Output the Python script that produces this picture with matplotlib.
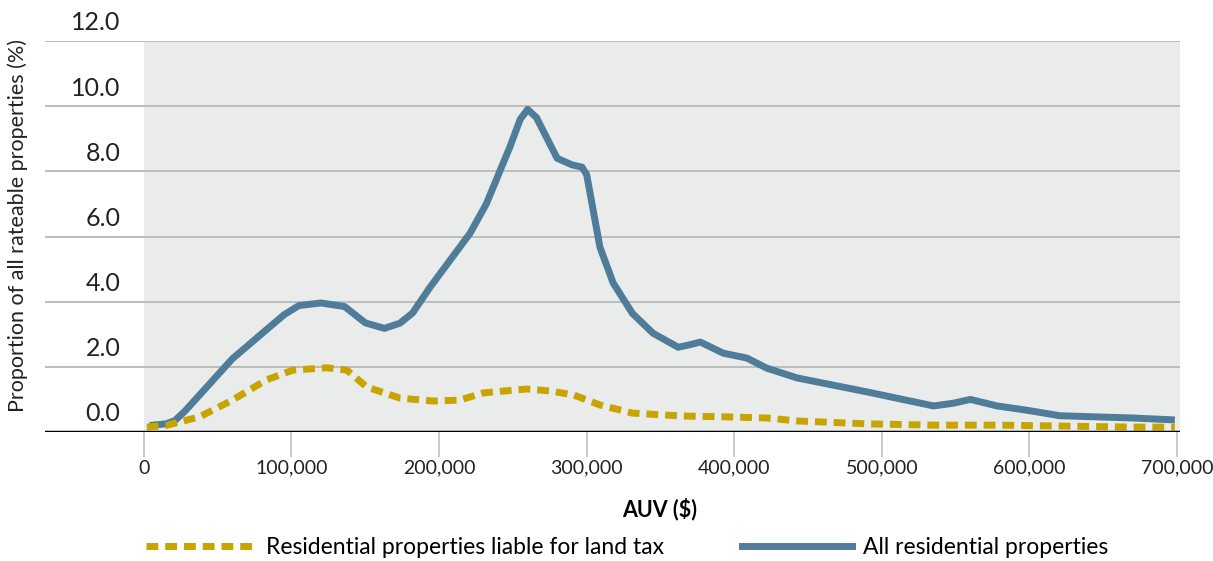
import numpy as np
import matplotlib
matplotlib.use('Agg')
from matplotlib import pyplot as plt

# data (AUV in $, proportion in %)
all_x = [4000, 15000, 21000, 28000, 60000, 95000, 105000, 120000, 136000, 150000, 163000,
         173500, 182000, 194000, 221000, 232000, 248000, 255000, 260000, 266000, 280000, 290000,
         296800, 300000, 309000, 318000, 331000, 345000, 362000, 370000, 377000, 392500, 408500,
         422000, 442500, 490000, 535000, 548000, 560000, 578000, 598000, 620500, 648000,
         670000, 698500]
all_y = [0.2, 0.25, 0.35, 0.65, 2.25, 3.6, 3.88, 3.96, 3.85, 3.35, 3.18,
         3.34, 3.65, 4.45, 6.1, 7.0, 8.75, 9.6, 9.9, 9.65, 8.4, 8.2,
         8.13, 7.9, 5.67, 4.57, 3.64, 3.03, 2.6, 2.68, 2.76, 2.42, 2.27,
         1.96, 1.66, 1.23, 0.8, 0.88, 1.0, 0.8, 0.67, 0.5, 0.46,
         0.43, 0.37]

tax_x = [2000, 15000, 38000, 60000, 83000, 101000, 124000, 137500, 151000, 173500,
         196000, 214000, 230000, 259500, 275000, 291000, 309000, 331000, 365000,
         399000, 422000, 442500, 490000, 535000, 580000, 625000, 670000, 698500]
tax_y = [0.15, 0.2, 0.47, 0.98, 1.6, 1.9, 1.97, 1.9, 1.38, 1.04,
         0.95, 0.98, 1.2, 1.32, 1.26, 1.14, 0.83, 0.58, 0.49,
         0.46, 0.43, 0.34, 0.25, 0.21, 0.21, 0.18, 0.15, 0.15]

y_ticks = [0, 2, 4, 6, 8, 10, 12]
y_labels = ['0.0', '2.0', '4.0', '6.0', '8.0', '10.0', '12.0']
x_ticks = [0, 100000, 200000, 300000, 400000, 500000, 600000, 700000]
x_labels = ['0', '100,000', '200,000', '300,000', '400,000', '500,000', '600,000', '700,000']

blue = '#4e7c99'
gold = '#c8a400'

plt.rcParams['font.family'] = ['Lato', 'DejaVu Sans']

fig = plt.figure(figsize=(12.13, 5.61), dpi=100)
ax = fig.add_axes([45 / 1213, (561 - 432) / 561, (1180 - 45) / 1213, (432 - 41) / 561])
ax.set_xlim(-67000, 702000)
ax.set_ylim(0, 12)
ax.axvspan(0, 702000, color='#eaeceb', zorder=0, lw=0)

for yv in y_ticks[1:]:
    ax.axhline(yv, color='#b8b8b8', lw=1.3, zorder=1)
ax.axhline(0, color='black', lw=2.5, zorder=5)

ax.plot(all_x, all_y, color=blue, lw=5, solid_joinstyle='round', solid_capstyle='butt', zorder=3)
ax.plot(tax_x, tax_y, color=gold, lw=5, dashes=(1.7, 1.0), dash_capstyle='butt', zorder=4)

for sp in ax.spines.values():
    sp.set_visible(False)
ax.set_yticks([])
ax.set_xticks(x_ticks)
ax.set_xticklabels(x_labels, fontsize=14, color='#222222')
ax.tick_params(axis='x', length=18, width=1.2, color='#c0c0c0', pad=2)

for yv, lab in zip(y_ticks, y_labels):
    ax.text(-16000, yv + 0.2, lab, ha='right', va='bottom', fontsize=18, color='#222222')

fig.text(18 / 1213, 1 - 225 / 561, 'Proportion of all rateable properties (%)', rotation=90,
         ha='center', va='center', fontsize=15.5, color='#222222')
fig.text(660 / 1213, 1 - 509 / 561, 'AUV ($)', ha='center', va='center', fontsize=15.5,
         fontweight='bold')

l1, = ax.plot([], [], color=gold, lw=5, dashes=(1.7, 1.0), dash_capstyle='butt')
l2, = ax.plot([], [], color=blue, lw=5)
fig.legend([l1, l2], ['Residential properties liable for land tax', 'All residential properties'],
           loc='center', bbox_to_anchor=(627 / 1213, 1 - 548 / 561), ncol=2, frameon=False,
           handlelength=4.8, columnspacing=3.4, handletextpad=0.45,
           prop={'size': 16.5})

fig.savefig('out.png', dpi=100)
